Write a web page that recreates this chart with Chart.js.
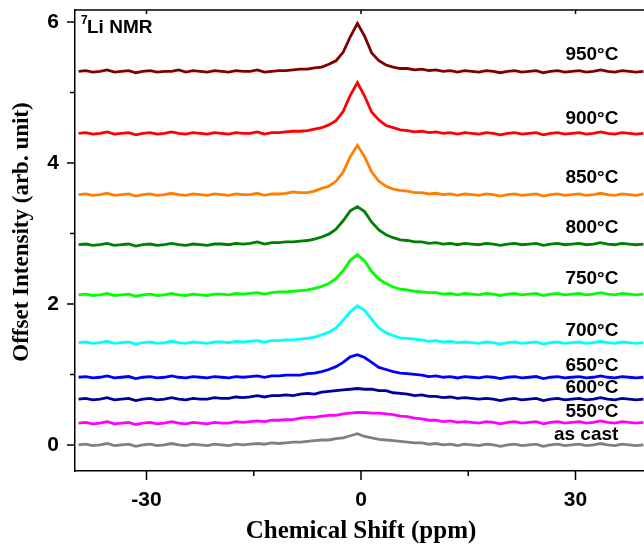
<!DOCTYPE html>
<html>
<head>
<meta charset="utf-8">
<title>7Li NMR</title>
<script src="https://cdn.jsdelivr.net/npm/chart.js@4.4.0/dist/chart.umd.min.js"></script>
<style>
  html, body { margin: 0; padding: 0; background: #fff; overflow: hidden; }
  canvas { display: block; }
</style>
</head>
<body>
<canvas id="nmr-chart" width="647" height="549"></canvas>
<script>
'use strict';

// chemical shift (ppm) shared by every spectrum
let shifts = [
  -39.5, -38.5, -37.5, -36.5, -35.5, -34.5, -33.5, -32.5, -31.5, -30.5,
  -29.5, -28.5, -27.5, -26.5, -25.5, -24.5, -23.5, -22.5, -21.5, -20.5,
  -19.5, -18.5, -17.5, -16.5, -15.5, -14.5, -13.5, -12.5, -11.5, -10.5,
  -9.5, -8.5, -7.5, -6.5, -5.5, -4.5, -3.5, -2.5, -1.5, -0.5,
  0.5, 1.5, 2.5, 3.5, 4.5, 5.5, 6.5, 7.5, 8.5, 9.5,
  10.5, 11.5, 12.5, 13.5, 14.5, 15.5, 16.5, 17.5, 18.5, 19.5,
  20.5, 21.5, 22.5, 23.5, 24.5, 25.5, 26.5, 27.5, 28.5, 29.5,
  30.5, 31.5, 32.5, 33.5, 34.5, 35.5, 36.5, 37.5, 38.5, 39.5
];

// offset intensities
let t950 = [
  5.30, 5.31, 5.29, 5.30, 5.32, 5.29, 5.30, 5.31, 5.28, 5.30,
  5.31, 5.29, 5.30, 5.30, 5.32, 5.29, 5.31, 5.30, 5.29, 5.31,
  5.30, 5.29, 5.31, 5.30, 5.30, 5.32, 5.29, 5.30, 5.31, 5.31,
  5.32, 5.33, 5.33, 5.35, 5.36, 5.40, 5.45, 5.57, 5.79, 5.98,
  5.80, 5.56, 5.45, 5.39, 5.36, 5.34, 5.34, 5.32, 5.33, 5.31,
  5.32, 5.30, 5.31, 5.29, 5.31, 5.30, 5.29, 5.31, 5.30, 5.28,
  5.30, 5.31, 5.29, 5.30, 5.31, 5.28, 5.30, 5.31, 5.29, 5.30,
  5.31, 5.29, 5.30, 5.32, 5.30, 5.29, 5.31, 5.30, 5.29, 5.30
];
let t900 = [
  4.42, 4.43, 4.41, 4.42, 4.44, 4.41, 4.42, 4.43, 4.40, 4.42,
  4.43, 4.41, 4.42, 4.44, 4.42, 4.41, 4.43, 4.42, 4.41, 4.43,
  4.42, 4.41, 4.43, 4.42, 4.42, 4.44, 4.41, 4.43, 4.43, 4.44,
  4.45, 4.45, 4.46, 4.48, 4.50, 4.54, 4.60, 4.73, 4.96, 5.14,
  4.95, 4.72, 4.61, 4.53, 4.50, 4.47, 4.46, 4.44, 4.45, 4.43,
  4.44, 4.42, 4.43, 4.41, 4.43, 4.42, 4.41, 4.43, 4.42, 4.40,
  4.42, 4.43, 4.41, 4.42, 4.43, 4.40, 4.42, 4.43, 4.41, 4.42,
  4.43, 4.41, 4.42, 4.44, 4.42, 4.41, 4.43, 4.42, 4.41, 4.42
];
let t850 = [
  3.55, 3.56, 3.54, 3.55, 3.57, 3.54, 3.55, 3.56, 3.53, 3.55,
  3.56, 3.54, 3.55, 3.57, 3.55, 3.54, 3.56, 3.55, 3.54, 3.56,
  3.55, 3.54, 3.56, 3.55, 3.55, 3.57, 3.54, 3.56, 3.56, 3.57,
  3.59, 3.58, 3.58, 3.60, 3.64, 3.67, 3.74, 3.87, 4.09, 4.25,
  4.09, 3.87, 3.74, 3.67, 3.63, 3.61, 3.60, 3.58, 3.58, 3.56,
  3.57, 3.55, 3.56, 3.54, 3.56, 3.55, 3.54, 3.56, 3.55, 3.53,
  3.55, 3.56, 3.54, 3.55, 3.56, 3.53, 3.55, 3.56, 3.54, 3.55,
  3.56, 3.54, 3.55, 3.57, 3.55, 3.54, 3.56, 3.55, 3.54, 3.56
];
let t800 = [
  2.84, 2.85, 2.83, 2.84, 2.86, 2.83, 2.84, 2.85, 2.82, 2.84,
  2.85, 2.83, 2.84, 2.86, 2.84, 2.83, 2.85, 2.84, 2.83, 2.85,
  2.85, 2.84, 2.86, 2.85, 2.86, 2.88, 2.85, 2.87, 2.87, 2.88,
  2.88, 2.89, 2.90, 2.92, 2.95, 2.99, 3.06, 3.18, 3.32, 3.38,
  3.31, 3.16, 3.05, 2.98, 2.94, 2.91, 2.90, 2.88, 2.88, 2.86,
  2.87, 2.85, 2.86, 2.84, 2.86, 2.85, 2.84, 2.86, 2.85, 2.83,
  2.85, 2.86, 2.84, 2.85, 2.86, 2.83, 2.85, 2.86, 2.84, 2.85,
  2.86, 2.84, 2.85, 2.87, 2.85, 2.84, 2.86, 2.85, 2.84, 2.85
];
let t750 = [
  2.13, 2.14, 2.12, 2.13, 2.15, 2.12, 2.13, 2.14, 2.11, 2.13,
  2.14, 2.12, 2.13, 2.15, 2.13, 2.12, 2.14, 2.13, 2.12, 2.14,
  2.14, 2.13, 2.15, 2.14, 2.15, 2.16, 2.14, 2.16, 2.17, 2.17,
  2.18, 2.19, 2.20, 2.22, 2.25, 2.29, 2.36, 2.47, 2.62, 2.70,
  2.61, 2.46, 2.35, 2.29, 2.24, 2.21, 2.20, 2.18, 2.17, 2.16,
  2.16, 2.14, 2.15, 2.13, 2.15, 2.14, 2.13, 2.15, 2.14, 2.12,
  2.14, 2.15, 2.13, 2.14, 2.15, 2.12, 2.14, 2.15, 2.13, 2.14,
  2.15, 2.13, 2.14, 2.16, 2.14, 2.13, 2.15, 2.14, 2.13, 2.14
];
let t700 = [
  1.45, 1.46, 1.44, 1.45, 1.47, 1.44, 1.45, 1.46, 1.43, 1.45,
  1.46, 1.44, 1.45, 1.47, 1.45, 1.44, 1.46, 1.45, 1.44, 1.46,
  1.46, 1.45, 1.47, 1.46, 1.47, 1.48, 1.46, 1.48, 1.48, 1.49,
  1.49, 1.50, 1.51, 1.53, 1.56, 1.60, 1.66, 1.77, 1.89, 1.97,
  1.91, 1.78, 1.66, 1.59, 1.55, 1.52, 1.51, 1.50, 1.49, 1.47,
  1.48, 1.46, 1.47, 1.45, 1.46, 1.45, 1.44, 1.46, 1.45, 1.43,
  1.45, 1.46, 1.44, 1.45, 1.46, 1.43, 1.45, 1.46, 1.44, 1.45,
  1.46, 1.44, 1.45, 1.47, 1.45, 1.44, 1.46, 1.45, 1.44, 1.45
];
let t650 = [
  0.96, 0.97, 0.95, 0.96, 0.98, 0.95, 0.96, 0.97, 0.94, 0.96,
  0.97, 0.95, 0.96, 0.98, 0.96, 0.95, 0.97, 0.96, 0.95, 0.97,
  0.96, 0.95, 0.97, 0.96, 0.97, 0.98, 0.96, 0.98, 0.98, 0.99,
  0.99, 0.99, 1.01, 1.02, 1.04, 1.07, 1.11, 1.17, 1.25, 1.28,
  1.24, 1.17, 1.10, 1.07, 1.04, 1.02, 1.01, 1.00, 0.99, 0.97,
  0.98, 0.96, 0.97, 0.95, 0.97, 0.96, 0.95, 0.97, 0.96, 0.94,
  0.96, 0.97, 0.95, 0.96, 0.97, 0.94, 0.96, 0.97, 0.95, 0.96,
  0.97, 0.95, 0.96, 0.98, 0.96, 0.95, 0.97, 0.96, 0.95, 0.96
];
let t600 = [
  0.65, 0.66, 0.64, 0.65, 0.67, 0.64, 0.65, 0.66, 0.63, 0.65,
  0.66, 0.64, 0.65, 0.67, 0.65, 0.64, 0.66, 0.65, 0.65, 0.67,
  0.66, 0.66, 0.68, 0.67, 0.68, 0.70, 0.68, 0.70, 0.70, 0.71,
  0.70, 0.72, 0.73, 0.72, 0.75, 0.76, 0.77, 0.78, 0.79, 0.80,
  0.79, 0.79, 0.77, 0.77, 0.74, 0.73, 0.72, 0.70, 0.71, 0.69,
  0.69, 0.67, 0.68, 0.66, 0.67, 0.66, 0.65, 0.66, 0.65, 0.63,
  0.65, 0.66, 0.64, 0.65, 0.66, 0.63, 0.65, 0.66, 0.64, 0.65,
  0.66, 0.64, 0.65, 0.67, 0.65, 0.64, 0.66, 0.65, 0.64, 0.65
];
let t550 = [
  0.31, 0.32, 0.30, 0.31, 0.33, 0.30, 0.31, 0.32, 0.29, 0.31,
  0.32, 0.30, 0.31, 0.33, 0.31, 0.30, 0.32, 0.31, 0.30, 0.32,
  0.31, 0.31, 0.33, 0.32, 0.33, 0.34, 0.33, 0.35, 0.35, 0.36,
  0.36, 0.38, 0.39, 0.39, 0.41, 0.42, 0.42, 0.44, 0.45, 0.46,
  0.46, 0.45, 0.45, 0.44, 0.43, 0.41, 0.40, 0.38, 0.37, 0.35,
  0.35, 0.33, 0.34, 0.32, 0.33, 0.32, 0.31, 0.33, 0.32, 0.30,
  0.32, 0.33, 0.31, 0.32, 0.33, 0.30, 0.32, 0.33, 0.31, 0.32,
  0.33, 0.31, 0.32, 0.34, 0.32, 0.31, 0.33, 0.32, 0.31, 0.32
];
let asCast = [
  0.00, 0.01, -0.01, 0.00, 0.02, -0.01, 0.00, 0.01, -0.02, 0.00,
  0.01, -0.01, 0.00, 0.02, 0.00, -0.01, 0.01, 0.00, -0.01, 0.01,
  0.00, -0.01, 0.01, 0.00, 0.01, 0.02, 0.01, 0.03, 0.02, 0.03,
  0.04, 0.04, 0.05, 0.06, 0.07, 0.07, 0.09, 0.10, 0.13, 0.16,
  0.12, 0.10, 0.08, 0.07, 0.06, 0.05, 0.04, 0.03, 0.03, 0.01,
  0.02, 0.00, 0.01, -0.01, 0.01, 0.00, -0.01, 0.01, 0.00, -0.02,
  0.00, 0.01, -0.01, 0.00, 0.01, -0.02, 0.00, 0.01, -0.01, 0.00,
  0.01, -0.01, 0.00, 0.02, 0.00, -0.01, 0.01, 0.00, -0.01, 0.00
];

let sampleNames = ['950°C', '900°C', '850°C', '800°C', '750°C', '700°C', '650°C', '600°C', '550°C', 'as cast'];
let spectra = [t950, t900, t850, t800, t750, t700, t650, t600, t550, asCast];
// where each sample name sits (intensity units)
let labelLevels = [5.53, 4.62, 3.79, 3.08, 2.36, 1.62, 1.13, 0.81, 0.47, 0.14];
let labelShift = 36;

let xTicks = [-30, 0, 30];
let xMinor = [-15, 15];
let yTicks = [0, 2, 4, 6];
let yMinor = [1, 3, 5];

let lineColors = ['#800000', '#ff0000', '#ff8000', '#008000', '#00ff00', '#00ffff', '#0000ff', '#00009c', '#ff00ff', '#808080'];

const sansBold = '"Liberation Sans", Arial, sans-serif';
const serifBold = '"Liberation Serif", "Times New Roman", serif';

let datasets = [];
for (let i = 0; i < spectra.length; i++) {
  let points = [];
  for (let j = 0; j < shifts.length; j++) {
    points.push({ x: shifts[j], y: spectra[i][j] });
  }
  datasets.push({
    label: sampleNames[i],
    data: points,
    borderColor: lineColors[i],
    backgroundColor: lineColors[i],
    borderWidth: 2.8,
    pointRadius: 0,
    tension: 0,
    fill: false
  });
}

// frame top, tick marks, y title and the text labels inside the plot
const frameAndLabels = {
  id: 'frameAndLabels',
  afterDraw(chart) {
    const { ctx, chartArea } = chart;
    const xs = chart.scales.x;
    const ys = chart.scales.y;
    ctx.save();
    ctx.strokeStyle = '#000';
    ctx.lineWidth = 1.5;
    ctx.beginPath();
    ctx.moveTo(chartArea.left, chartArea.top);
    ctx.lineTo(chartArea.right, chartArea.top);
    yTicks.forEach(v => {
      let py = ys.getPixelForValue(v);
      ctx.moveTo(chartArea.left - 8, py);
      ctx.lineTo(chartArea.left, py);
    });
    yMinor.forEach(v => {
      let py = ys.getPixelForValue(v);
      ctx.moveTo(chartArea.left - 5, py);
      ctx.lineTo(chartArea.left, py);
    });
    xTicks.forEach(v => {
      let px = xs.getPixelForValue(v);
      ctx.moveTo(px, chartArea.bottom);
      ctx.lineTo(px, chartArea.bottom + 9);
      ctx.moveTo(px, chartArea.top);
      ctx.lineTo(px, chartArea.top + 4);
    });
    xMinor.forEach(v => {
      let px = xs.getPixelForValue(v);
      ctx.moveTo(px, chartArea.bottom);
      ctx.lineTo(px, chartArea.bottom + 5);
    });
    ctx.stroke();

    ctx.fillStyle = '#000';
    ctx.font = 'bold 19px ' + sansBold;
    ctx.textAlign = 'right';
    ctx.textBaseline = 'middle';
    for (let i = 0; i < sampleNames.length; i++) {
      ctx.fillText(sampleNames[i], xs.getPixelForValue(labelShift), ys.getPixelForValue(labelLevels[i]));
    }

    // nucleus tag, top left
    ctx.textAlign = 'left';
    ctx.textBaseline = 'alphabetic';
    ctx.font = 'bold 12px ' + sansBold;
    ctx.fillText('7', chartArea.left + 6, chartArea.top + 14);
    ctx.font = 'bold 19px ' + sansBold;
    ctx.fillText('Li NMR', chartArea.left + 12, chartArea.top + 23);

    // y axis title
    ctx.translate(22, 232);
    ctx.rotate(-Math.PI / 2);
    ctx.textAlign = 'center';
    ctx.textBaseline = 'middle';
    ctx.font = 'bold 23px ' + serifBold;
    ctx.fillText('Offset Intensity (arb. unit)', 0, 0);
    ctx.restore();
  }
};

const ctx = document.getElementById('nmr-chart');
const nmrChart = new Chart(ctx, {
  type: 'line',
  data: { datasets: datasets },
  options: {
    responsive: false,
    animation: false,
    events: [],
    layout: { padding: { top: 10, left: 0, right: 0, bottom: 0 } },
    plugins: {
      legend: { display: false },
      tooltip: { enabled: false }
    },
    scales: {
      x: {
        type: 'linear',
        min: -40,
        max: 40,
        afterBuildTicks: (scale) => { scale.ticks = xTicks.map(v => ({ value: v })); },
        afterFit: (scale) => {
          scale.height = 78;
          scale.paddingLeft = 0;
          scale.paddingRight = 0;
        },
        ticks: {
          callback: (v) => String(v),
          color: '#000',
          padding: 17,
          maxRotation: 0,
          autoSkip: false,
          font: { family: sansBold, size: 21, weight: 'bold' }
        },
        grid: { drawOnChartArea: false, drawTicks: false },
        border: { color: '#000', width: 1.5 },
        title: {
          display: true,
          text: 'Chemical Shift (ppm)',
          color: '#000',
          font: { family: serifBold, size: 25, weight: 'bold' },
          padding: { top: 0, bottom: 2 }
        }
      },
      y: {
        type: 'linear',
        min: -0.37,
        max: 6.17,
        afterBuildTicks: (scale) => { scale.ticks = yTicks.map(v => ({ value: v })); },
        afterFit: (scale) => {
          scale.width = 75;
          scale.paddingTop = 0;
          scale.paddingBottom = 0;
        },
        ticks: {
          callback: (v) => String(v),
          color: '#000',
          padding: 16,
          font: { family: sansBold, size: 21, weight: 'bold' }
        },
        grid: { drawOnChartArea: false, drawTicks: false },
        border: { color: '#000', width: 1.5 },
        title: { display: false }
      }
    }
  },
  plugins: [frameAndLabels]
});
</script>
</body>
</html>
